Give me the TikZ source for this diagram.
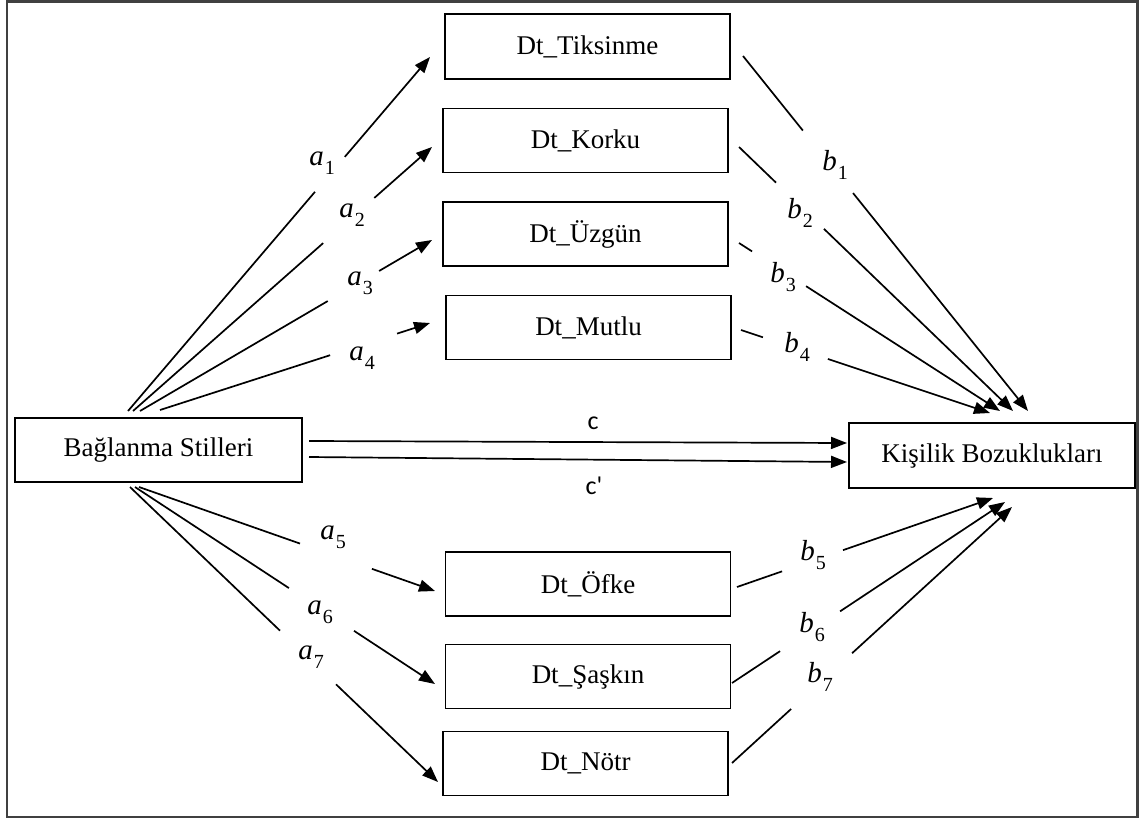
\documentclass[tikz,border=0pt]{standalone}
\usepackage{fontspec}
\setmainfont{Liberation Serif}
\newfontfamily\calibfont{Carlito}
\usetikzlibrary{arrows.meta,calc}
\newcommand{\gapconn}[4]{%
  \draw[ln] (#1) -- ($(#1)!#3!(#2)$);
  \draw[arr] ($(#1)!#4!(#2)$) -- (#2);}
\newcommand{\sublab}[2]{\textit{#1}\kern1pt\raisebox{-0.32em}{\fontsize{20}{21}\selectfont #2}}
\begin{document}
\begin{tikzpicture}[x=1pt,y=-1pt,
  box/.style={draw, line width=1.8pt, minimum width=285pt, minimum height=64pt, inner sep=0pt, font=\fontsize{27}{32}\selectfont},
  ln/.style={line width=1.7pt},
  arr/.style={line width=1.7pt, -{Triangle[length=16pt,width=12pt]}},
  lab/.style={font=\fontsize{29}{32}\selectfont, inner sep=0pt},
  clab/.style={font=\calibfont\fontsize{26}{30}\selectfont, inner sep=0pt}]
\useasboundingbox (0,0) rectangle (1139,819);
\draw[line width=2.2pt, black!75] (7,1.5) rectangle (1137.5,817);

% boxes
\node[box, minimum width=287pt] (bs) at (158.5,450) {Bağlanma Stilleri};
\node[box, minimum width=286pt, minimum height=65pt] (kb) at (992,455.5) {Kişilik Bozuklukları};
\node[box, minimum height=65pt] (tik) at (587.5,46.5) {Dt\_Tiksinme};
\node[box] (kor) at (585.5,140.5) {Dt\_Korku};
\node[box] (uzg) at (585.5,234) {Dt\_Üzgün};
\node[box] (mut) at (588.5,327.5) {Dt\_Mutlu};
\node[box] (ofk) at (588,584) {Dt\_Öfke};
\node[box] (sas) at (588,676.5) {Dt\_Şaşkın};
\node[box] (not) at (585.5,763.5) {Dt\_Nötr};

% connector end points
\coordinate (sa1) at (128,411); \coordinate (ea1) at (430,57);
\coordinate (sa2) at (133,411); \coordinate (ea2) at (432,147);
\coordinate (sa3) at (140,411); \coordinate (ea3) at (432,240);
\coordinate (sa4) at (160,410); \coordinate (ea4) at (430,323);
\coordinate (sa5) at (139,487); \coordinate (ea5) at (435,591);
\coordinate (sa6) at (135,487); \coordinate (ea6) at (435,684);
\coordinate (sa7) at (130,487); \coordinate (ea7) at (438,782);

\coordinate (sb1) at (743,56);  \coordinate (eb1) at (1028,411);
\coordinate (sb2) at (739,147); \coordinate (eb2) at (1013,411);
\coordinate (sb3) at (739,243); \coordinate (eb3) at (1000,411);
\coordinate (sb4) at (741,330); \coordinate (eb4) at (990,413);
\coordinate (sb5) at (737,587); \coordinate (eb5) at (993,498);
\coordinate (sb6) at (732,683); \coordinate (eb6) at (1005,502);
\coordinate (sb7) at (732,763); \coordinate (eb7) at (1012,507);

\coordinate (sc) at (309,441);  \coordinate (ec) at (847,443);
\coordinate (scp) at (309,457); \coordinate (ecp) at (847,462);

% a paths
\gapconn{sa1}{ea1}{0.619}{0.718}
\gapconn{sa2}{ea2}{0.636}{0.807}
\gapconn{sa3}{ea3}{0.643}{0.819}
\gapconn{sa4}{ea4}{0.63}{0.878}
\gapconn{sa5}{ea5}{0.544}{0.787}
\gapconn{sa6}{ea6}{0.513}{0.73}
\gapconn{sa7}{ea7}{0.487}{0.669}
% b paths
\gapconn{sb1}{eb1}{0.21}{0.386}
\gapconn{sb2}{eb2}{0.135}{0.31}
\gapconn{sb3}{eb3}{0.05}{0.257}
\gapconn{sb4}{eb4}{0.088}{0.349}
\gapconn{sb5}{eb5}{0.176}{0.414}
\gapconn{sb6}{eb6}{0.176}{0.396}
\gapconn{sb7}{eb7}{0.211}{0.429}
% c paths
\draw[arr] (sc) -- (ec);
\draw[arr] (scp) -- (ecp);

% labels
\node[lab] (la1) at (322,163) {\sublab{a}{1}};
\node[lab] (la2) at (352,215) {\sublab{a}{2}};
\node[lab] (la3) at (360,283) {\sublab{a}{3}};
\node[lab] (la4) at (362,358) {\sublab{a}{4}};
\node[lab] (la5) at (333,537) {\sublab{a}{5}};
\node[lab] (la6) at (320,612) {\sublab{a}{6}};
\node[lab] (la7) at (311,657) {\sublab{a}{7}};
\node[lab] (lb1) at (835,165) {\sublab{b}{1}};
\node[lab] (lb2) at (800,213) {\sublab{b}{2}};
\node[lab] (lb3) at (783,277) {\sublab{b}{3}};
\node[lab] (lb4) at (797,347) {\sublab{b}{4}};
\node[lab] (lb5) at (813,555) {\sublab{b}{5}};
\node[lab] (lb6) at (812,627) {\sublab{b}{6}};
\node[lab] (lb7) at (820,677) {\sublab{b}{7}};
\node[clab] (lc) at (593,423) {c};
\node[clab] (lcp) at (594,486) {c'};
\end{tikzpicture}
\end{document}
